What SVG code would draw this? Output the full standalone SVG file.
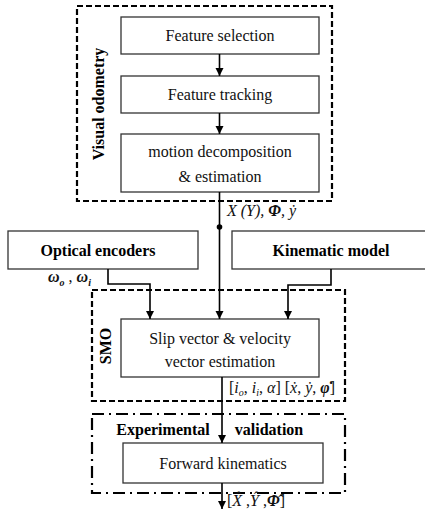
<svg xmlns="http://www.w3.org/2000/svg" width="425" height="519" viewBox="0 0 425 519">
<defs>
<marker id="ah" markerUnits="userSpaceOnUse" markerWidth="9" markerHeight="9" refX="8" refY="4" orient="auto">
<path d="M0,0 L8,4 L0,8 z" fill="#000"/>
</marker>
<style>
.box{fill:#fff;stroke:#333;stroke-width:1.3}
.grp{fill:none;stroke:#000;stroke-width:2.2;stroke-dasharray:6,3}
.dd{fill:none;stroke:#000;stroke-width:2.2;stroke-dasharray:12,5,2,5}
text{font-family:"Liberation Serif","Times New Roman","DejaVu Serif",serif}
.t{font-size:16px;fill:#111;text-anchor:middle}
.b{font-size:16px;font-weight:bold;fill:#000;text-anchor:middle}
.m{font-size:16px;font-style:italic;fill:#111}
.ca{fill:none;stroke:#000;stroke-width:1.6;marker-end:url(#ah)}
</style>
</defs>
<g id="visual-odometry">
<rect class="grp" x="77" y="6" width="255" height="195"/>
<text class="b" font-size="17" transform="translate(104,104) rotate(-90)">Visual odometry</text>
</g>
<g id="smo">
<rect class="grp" x="92" y="290" width="253" height="111"/>
<text class="b" transform="translate(111,346) rotate(-90)">SMO</text>
</g>
<g id="experimental-validation">
<rect class="dd" x="92" y="414" width="253" height="79"/>
<text class="b" x="163" y="435">Experimental</text>
<text class="b" x="269" y="435">validation</text>
</g>
<g id="feature-selection">
<rect class="box" x="121" y="17" width="198" height="37"/>
<text class="t" x="220" y="41">Feature selection</text>
</g>
<g id="feature-tracking">
<rect class="box" x="121" y="76" width="198" height="37"/>
<text class="t" x="220" y="100">Feature tracking</text>
</g>
<g id="motion-decomposition">
<rect class="box" x="121" y="134" width="198" height="58"/>
<text class="t" x="220" y="157">motion decomposition</text>
<text class="t" x="220" y="182">&amp; estimation</text>
</g>
<g id="optical-encoders">
<rect class="box" x="8" y="231" width="190" height="38"/>
<text class="b" x="98" y="256">Optical encoders</text>
</g>
<g id="kinematic-model">
<rect class="box" x="232" y="231" width="200" height="38"/>
<text class="b" x="331" y="256">Kinematic model</text>
</g>
<g id="slip-estimation">
<rect class="box" x="121" y="319" width="198" height="58"/>
<text class="t" x="220" y="344">Slip vector &amp; velocity</text>
<text class="t" x="220" y="367">vector estimation</text>
</g>
<g id="forward-kinematics">
<rect class="box" x="123" y="443" width="200" height="40"/>
<text class="t" x="223" y="469">Forward kinematics</text>
</g>
<g id="connectors">
<line class="ca" x1="219.5" y1="54" x2="219.5" y2="76"/>
<line class="ca" x1="219.5" y1="113" x2="219.5" y2="134"/>
<line class="ca" x1="219.5" y1="192" x2="219.5" y2="319"/>
<circle cx="219.5" cy="227" r="2.8" fill="#000"/>
<polyline class="ca" points="108,269 108,284 150,284 150,319"/>
<polyline class="ca" points="331,269 331,285 288,285 288,319"/>
<line class="ca" x1="222" y1="377" x2="222" y2="443"/>
<line class="ca" x1="222" y1="483" x2="222" y2="509"/>
</g>
<g id="labels">
<text class="m" x="227" y="216" font-size="17">X (Y), <tspan font-weight="bold">Φ</tspan>, ẏ</text>
<text class="m" x="48" y="282" font-size="18" font-weight="bold">ω<tspan dy="4" font-size="10">o</tspan><tspan dy="-4" font-weight="normal" font-style="normal"> , </tspan>ω<tspan dy="4" font-size="10">i</tspan></text>
<text class="m" x="229" y="393" font-size="17"><tspan font-style="normal">[</tspan>i<tspan dy="3" font-size="10">o</tspan><tspan dy="-3" font-style="normal">, </tspan>i<tspan dy="3" font-size="10">i</tspan><tspan dy="-3" font-style="normal">, </tspan>α<tspan font-style="normal">] [</tspan>ẋ<tspan font-style="normal">, </tspan>ẏ<tspan font-style="normal">, </tspan><tspan font-weight="bold">φ̇</tspan><tspan font-style="normal">]</tspan></text>
<text class="m" x="227" y="506" font-size="17"><tspan font-style="normal">[</tspan>X̂<tspan font-style="normal"> ,</tspan>Ŷ<tspan font-style="normal"> ,</tspan><tspan font-weight="bold">Φ̂</tspan><tspan font-style="normal">]</tspan></text>
</g>
</svg>
